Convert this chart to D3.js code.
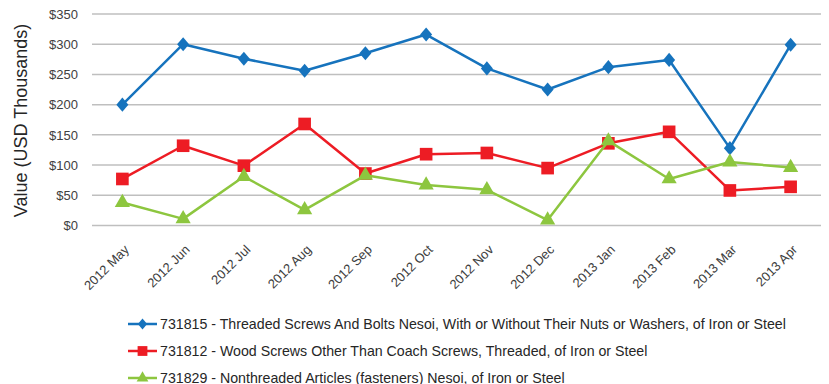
<!DOCTYPE html>
<html><head><meta charset="utf-8">
<script src="https://cdn.jsdelivr.net/npm/d3@7"></script>
<style>body{margin:0;background:#fff;}svg{display:block;font-family:"Liberation Sans",Arial,sans-serif;}</style>
</head><body>
<svg id="c" width="829" height="384"></svg>
<script>
const categories = ["2012 May","2012 Jun","2012 Jul","2012 Aug","2012 Sep","2012 Oct","2012 Nov","2012 Dec","2013 Jan","2013 Feb","2013 Mar","2013 Apr"];
const seriesNames = [
  "731815 - Threaded Screws And Bolts Nesoi, With or Without Their Nuts or Washers, of Iron or Steel",
  "731812 - Wood Screws Other Than Coach Screws, Threaded, of Iron or Steel",
  "731829 - Nonthreaded Articles (fasteners) Nesoi, of Iron or Steel"
];
const values731815 = [200, 300, 276, 256, 285, 316, 260, 225, 262, 274, 128, 299];
const values731812 = [77, 132, 99, 168, 86, 118, 120, 95, 136, 155, 58, 64];
const values731829 = [38, 11, 81, 26, 83, 67, 59, 9, 140, 77, 105, 96];
const yTicks = [0, 50, 100, 150, 200, 250, 300, 350];
const colors = ["#1673bd", "#ed1c24", "#8dc63f"];

// squarish diamond (Excel-style)
const excelDiamond = {
  draw(ctx, size) {
    const h = Math.sqrt(size / 1.7) * 0.92, w = h * 0.85;
    ctx.moveTo(0, -h); ctx.lineTo(w, 0); ctx.lineTo(0, h); ctx.lineTo(-w, 0); ctx.closePath();
  }
};
const symbols = [excelDiamond, d3.symbolSquare, d3.symbolTriangle];
const symSizes = [100, 160, 100];

const svg = d3.select("#c");
const x = d3.scaleBand().domain(categories).range([92, 821]);
const y = d3.scaleLinear().domain([0, 350]).range([225.5, 14]);

// grid
svg.append("g").selectAll("line").data(yTicks).join("line")
  .attr("x1", 92).attr("x2", 821)
  .attr("y1", d => y(d)).attr("y2", d => y(d))
  .attr("stroke", "#bfbfbf").attr("stroke-width", 1.5);

// y axis labels
const yAxis = d3.axisLeft(y).tickValues(yTicks).tickSize(0).tickPadding(0).tickFormat(d => "$" + d);
const ya = svg.append("g").attr("transform", "translate(78,0)").call(yAxis);
ya.select(".domain").remove();
ya.selectAll("text").attr("font-size", 13).attr("fill", "#404040").attr("font-family", "Liberation Sans, Arial, sans-serif");

// x axis labels
const xAxis = d3.axisBottom(x).tickSize(0).tickPadding(0);
const xa = svg.append("g").call(xAxis);
xa.select(".domain").remove();
xa.selectAll(".tick").attr("transform", d => `translate(${x(d) + x.bandwidth()/2 + 1},244)`);
xa.selectAll("text").attr("font-size", 13).attr("fill", "#404040")
  .attr("font-family", "Liberation Sans, Arial, sans-serif")
  .attr("text-anchor", "end").attr("dy", "0.7em").attr("y", 0)
  .attr("transform", "rotate(-45)");

// y title
svg.append("text").attr("transform", "translate(27,120.5) rotate(-90)")
  .attr("text-anchor", "middle").attr("font-size", 18).attr("fill", "#262626")
  .text("Value (USD Thousands)");

const allSeries = [values731815, values731812, values731829];
const line = d3.line().x((d, i) => x(categories[i]) + x.bandwidth()/2).y(d => y(d));
allSeries.forEach((vals, si) => {
  const g = svg.append("g");
  g.append("path").datum(vals).attr("d", line).attr("fill", "none")
    .attr("stroke", colors[si]).attr("stroke-width", 2.5).attr("stroke-linejoin", "round");
  g.selectAll("path.m").data(vals).join("path").attr("class", "m")
    .attr("transform", (d, i) => `translate(${x(categories[i]) + x.bandwidth()/2},${y(d)})`)
    .attr("d", d3.symbol().type(symbols[si]).size(symSizes[si]))
    .attr("fill", colors[si]);
});

// legend
const legY = [324, 351, 378];
seriesNames.forEach((name, i) => {
  const g = svg.append("g").attr("transform", `translate(128,${legY[i]})`);
  g.append("line").attr("x1", 0).attr("x2", 29).attr("stroke", colors[i]).attr("stroke-width", 2.5);
  g.append("path").attr("transform", "translate(14.5,0)")
    .attr("d", d3.symbol().type(symbols[i]).size(symSizes[i] * 0.6)).attr("fill", colors[i]);
  g.append("text").attr("x", 32).attr("y", 4.5).attr("font-size", 14.2).attr("fill", "#262626").text(name);
});
</script>
</body></html>
